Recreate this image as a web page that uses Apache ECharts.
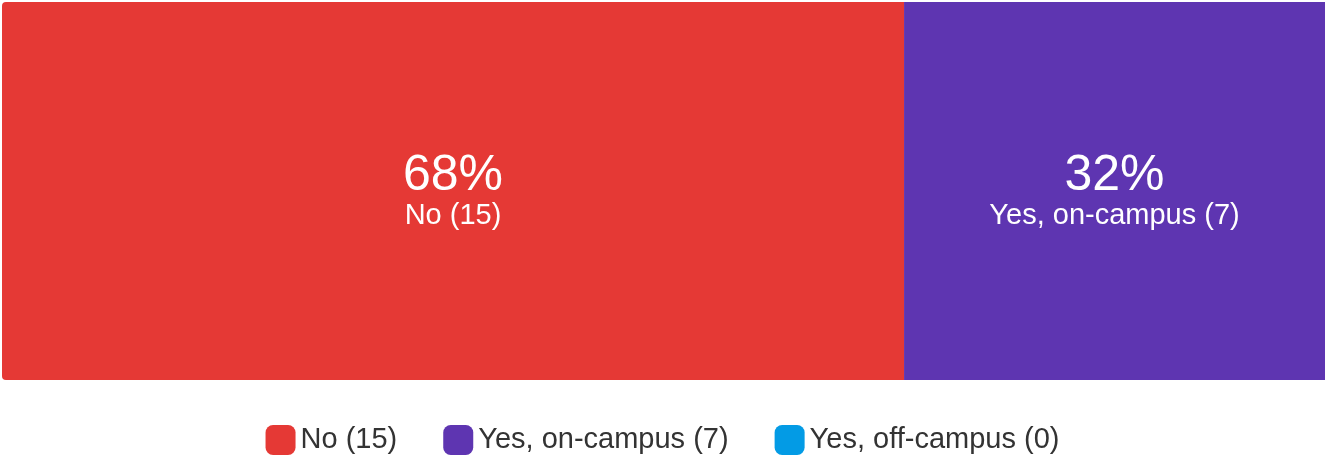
<!DOCTYPE html>
<html>
<head>
<meta charset="utf-8">
<script src="https://cdn.jsdelivr.net/npm/echarts@6/dist/echarts.min.js"></script>
<style>
  html, body { margin: 0; padding: 0; background: #fff; }
  #chart { width: 1325px; height: 464px; }
</style>
</head>
<body>
<div id="chart"></div>
<script>
  const categories = ['No', 'Yes, on-campus', 'Yes, off-campus'];
  const counts = [15, 7, 0];
  const colors = ['#e53935', '#5e35b1', '#039be5'];

  const total = counts.reduce((a, b) => a + b, 0);
  const chart = echarts.init(document.getElementById('chart'));

  const series = categories.map((name, i) => ({
    name: name + ' (' + counts[i] + ')',
    type: 'bar',
    stack: 'all',
    barWidth: '100%',
    data: [counts[i]],
    itemStyle: {
      color: colors[i],
      borderRadius: i === 0 ? [4, 0, 0, 4] : 0
    },
    label: {
      show: counts[i] > 0,
      position: 'inside',
      formatter: function () {
        return '{p|' + Math.round(counts[i] / total * 100) + '%}\n{n|' + name + ' (' + counts[i] + ')}';
      },
      rich: {
        p: { fontSize: 50, color: '#fff', fontFamily: 'Liberation Sans', lineHeight: 50 },
        n: { fontSize: 29, color: '#fff', fontFamily: 'Liberation Sans', lineHeight: 30 }
      }
    }
  }));

  chart.setOption({
    animation: false,
    grid: { left: 2, right: 0, top: 2, bottom: 84 },
    xAxis: { type: 'value', min: 0, max: total, show: false },
    yAxis: { type: 'category', data: ['all'], show: false },
    legend: {
      bottom: 4,
      left: 'center',
      icon: 'roundRect',
      itemWidth: 30,
      itemHeight: 30,
      itemGap: 46,
      textStyle: { fontSize: 29, color: '#333', fontFamily: 'Liberation Sans' }
    },
    series: series
  });
</script>
</body>
</html>
